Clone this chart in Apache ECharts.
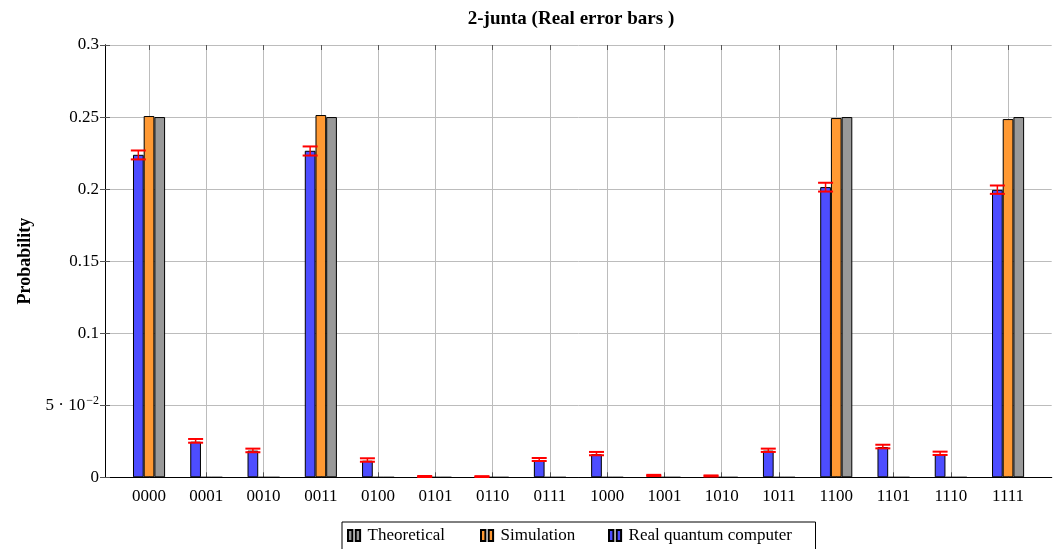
<!DOCTYPE html>
<html>
<head>
<meta charset="utf-8">
<script src="https://cdn.jsdelivr.net/npm/echarts@6/dist/echarts.min.js"></script>
<style>
html,body{margin:0;padding:0;background:#fff;}
#chart{width:1059px;height:549px;}
</style>
</head>
<body>
<div id="chart"></div>
<script>
const categories = ['0000','0001','0010','0011','0100','0101','0110','0111','1000','1001','1010','1011','1100','1101','1110','1111'];
const realValues = [0.2238, 0.0247, 0.0185, 0.2266, 0.0115, 0.0005, 0.0004, 0.0120, 0.0160, 0.0012, 0.0009, 0.0185, 0.2014, 0.0210, 0.0160, 0.1995];
const realErrLow = [0.2206, 0.0240, 0.0174, 0.2233, 0.0108, 0.0002, 0.0002, 0.0113, 0.0153, 0.0009, 0.0006, 0.0176, 0.1983, 0.0201, 0.0155, 0.1967];
const realErrHigh = [0.2268, 0.0266, 0.0199, 0.2296, 0.0132, 0.0009, 0.0008, 0.0134, 0.0176, 0.0017, 0.0013, 0.0199, 0.2044, 0.0226, 0.0178, 0.2025];
const simulationValues = [0.2507, 0, 0, 0.2514, 0, 0, 0, 0, 0, 0, 0, 0, 0.2493, 0, 0, 0.2486];
const theoreticalValues = [0.25, 0, 0, 0.25, 0, 0, 0, 0, 0, 0, 0, 0, 0.25, 0, 0, 0.25];
const yTicks = [0, 0.05, 0.1, 0.15, 0.2, 0.25, 0.3];
const yTickLabels = ['0', '5 · 10{sup|−2}', '0.1', '0.15', '0.2', '0.25', '0.3'];
const seriesNames = ['Real quantum computer', 'Simulation', 'Theoretical'];
const legendOrder = ['Theoretical', 'Simulation', 'Real quantum computer'];

const FONT = 'Liberation Serif';
const BAR_W = 10.7;
const chart = echarts.init(document.getElementById('chart'), null, {renderer: 'canvas'});

const errData = categories.map((c, i) => [i, realErrLow[i], realErrHigh[i]]);
const legendIcon = 'path://M0,0h4v10h-4z M7,0h4v10h-4z';
const legendLefts = [347, 480, 608];

function makeLegend(name, left) {
  return {
    left: left, top: 527, padding: 0,
    itemWidth: 15, itemHeight: 11, itemGap: 0,
    icon: legendIcon,
    textStyle: {fontFamily: FONT, fontSize: 17, color: '#000', padding: [0, 0, 0, 1]},
    data: [name]
  };
}

const option = {
  animation: false,
  backgroundColor: '#fff',
  title: {
    text: '2-junta (Real error bars )',
    left: 566, top: 5, textAlign: 'center',
    textStyle: {fontFamily: FONT, fontWeight: 'bold', fontSize: 19, color: '#000'}
  },
  graphic: [{
    type: 'rect', left: 341.5, top: 521.5, z: -1,
    shape: {width: 473.5, height: 34},
    style: {fill: '#fff', stroke: '#000', lineWidth: 1}
  }],
  legend: legendOrder.map((n, i) => makeLegend(n, legendLefts[i])),
  grid: [
    {left: 105, right: 7.3, top: 45, bottom: 71.7, show: false},
    {left: 120.4, right: 22.3, top: 45, bottom: 71.7, show: false}
  ],
  xAxis: [
    {gridIndex: 0, type: 'value', min: 0, max: 1, position: 'bottom',
     axisLine: {show: true, lineStyle: {color: '#000', width: 1}}, axisTick: {show: false}, axisLabel: {show: false}, splitLine: {show: false}},
    {gridIndex: 0, type: 'value', min: 0, max: 1, position: 'top',
     axisLine: {show: true, lineStyle: {color: '#000', width: 1}}, axisTick: {show: false}, axisLabel: {show: false}, splitLine: {show: false}},
    {gridIndex: 1, type: 'category', data: categories, position: 'bottom',
     axisLine: {show: false},
     axisTick: {show: true, inside: true, alignWithLabel: true, length: 5, lineStyle: {color: '#555'}},
     axisLabel: {fontFamily: FONT, fontSize: 17, color: '#000', margin: 11, interval: 0},
     splitLine: {show: true, alignWithLabel: true, lineStyle: {color: '#bcbcbc', width: 1}}},
    {gridIndex: 1, type: 'category', data: categories, position: 'top',
     axisLine: {show: false},
     axisTick: {show: true, inside: true, alignWithLabel: true, length: 5, lineStyle: {color: '#555'}},
     axisLabel: {show: false}, splitLine: {show: false}}
  ],
  yAxis: [
    {gridIndex: 0, type: 'value', min: 0, max: 0.3, interval: 0.05, position: 'left',
     name: 'Probability', nameLocation: 'middle', nameRotate: 90, nameGap: 71,
     nameTextStyle: {fontFamily: FONT, fontWeight: 'bold', fontSize: 18, color: '#000'},
     axisLine: {show: true, lineStyle: {color: '#000', width: 1}},
     axisTick: {show: true, inside: true, length: 5, lineStyle: {color: '#555'}},
     axisLabel: {
       fontFamily: FONT, fontSize: 17, color: '#000', margin: 6,
       formatter: function (v) {
         const idx = yTicks.findIndex(t => Math.abs(t - v) < 1e-9);
         return idx >= 0 ? yTickLabels[idx] : '';
       },
       rich: {sup: {fontFamily: FONT, fontSize: 12, color: '#000', verticalAlign: 'top', padding: [0, 0, 8, 1]}}
     },
     splitLine: {show: true, lineStyle: {color: '#bcbcbc', width: 1}}},
    {gridIndex: 0, type: 'value', min: 0, max: 0.3, interval: 0.05, position: 'right',
     axisLine: {show: true, lineStyle: {color: '#000', width: 1}},
     axisTick: {show: true, inside: true, length: 5, lineStyle: {color: '#555'}},
     axisLabel: {show: false}, splitLine: {show: false}},
    {gridIndex: 1, type: 'value', min: 0, max: 0.3, show: false}
  ],
  series: [
    {name: seriesNames[0], type: 'bar', xAxisIndex: 2, yAxisIndex: 2, data: realValues,
     barWidth: BAR_W, barGap: '0%', z: 3,
     itemStyle: {color: '#4d4dff', borderColor: '#000', borderWidth: 1}},
    {name: seriesNames[1], type: 'bar', xAxisIndex: 2, yAxisIndex: 2, data: simulationValues,
     barWidth: BAR_W, barGap: '0%', z: 3,
     itemStyle: {color: '#ff9933', borderColor: '#000', borderWidth: 1}},
    {name: seriesNames[2], type: 'bar', xAxisIndex: 2, yAxisIndex: 2, data: theoreticalValues,
     barWidth: BAR_W, barGap: '0%', z: 3,
     itemStyle: {color: '#999999', borderColor: '#000', borderWidth: 1}},
    {name: 'err', type: 'custom', xAxisIndex: 2, yAxisIndex: 2, data: errData, z: 5,
     encode: {x: 0, y: [1, 2]},
     renderItem: function (params, api) {
       const lo = api.coord([api.value(0), api.value(1)]);
       const hi = api.coord([api.value(0), api.value(2)]);
       const x = lo[0] - BAR_W;
       const half = 7.5;
       const st = {stroke: '#ff0000', lineWidth: 2};
       return {type: 'group', children: [
         {type: 'line', shape: {x1: x, y1: lo[1], x2: x, y2: hi[1]}, style: {stroke: '#ff0000', lineWidth: 1.5}},
         {type: 'line', shape: {x1: x - half, y1: lo[1], x2: x + half, y2: lo[1]}, style: st},
         {type: 'line', shape: {x1: x - half, y1: hi[1], x2: x + half, y2: hi[1]}, style: st}
       ]};
     }}
  ]
};
chart.setOption(option);
</script>
</body>
</html>
